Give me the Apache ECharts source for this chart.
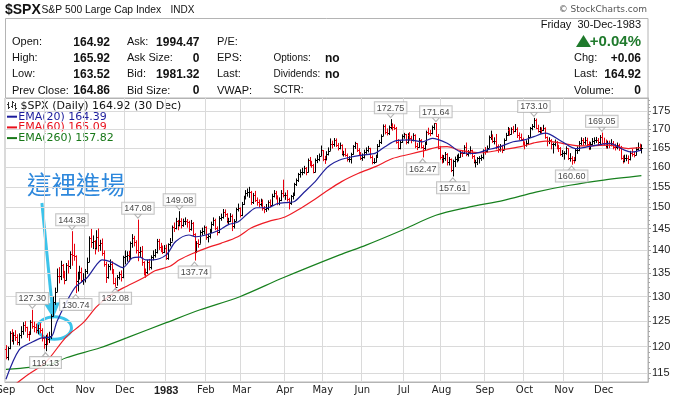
<!DOCTYPE html>
<html>
<head>
<meta charset="utf-8">
<script src="https://cdn.jsdelivr.net/npm/echarts@6/dist/echarts.min.js"></script>
<style>
  html, body { margin: 0; padding: 0; background: #fff; }
  #chart { width: 676px; height: 397px; }
</style>
</head>
<body>
<div id="chart"></div>
<script>
// daily bars, one array per month: [day, high, low, close]
const sep82 = [[1,120.3,117.6,117.98],[2,120.0,117.4,119.67],[3,123.0,119.5,122.68],[7,123.4,120.9,121.37],[8,122.8,120.4,122.19],[9,123.2,121.1,121.97],[10,122.4,120.3,120.97],[13,122.6,120.2,122.24],[14,124.0,121.6,123.10],[15,124.8,122.3,124.29],[16,125.0,122.9,123.77],[17,123.9,121.7,122.55],[20,123.0,121.1,122.51],[21,125.2,122.4,124.88],[22,127.30,123.5,123.99],[23,124.9,122.8,123.81],[24,124.5,122.6,123.32],[27,124.3,122.4,123.62],[28,124.6,122.6,123.24],[29,123.6,121.0,121.63],[30,122.0,119.6,120.42]];
const oct82 = [[1,122.3,119.13,121.97],[4,122.6,120.3,121.51],[5,122.9,120.7,121.98],[6,126.4,121.5,125.97],[7,130.0,125.9,128.80],[8,131.9,128.3,131.05],[11,136.0,131.0,134.47],[12,136.3,132.8,134.44],[13,137.7,133.5,136.71],[14,137.0,133.9,134.57],[15,135.5,132.6,133.57],[18,137.2,133.4,136.73],[19,137.8,134.9,136.58],[20,139.8,135.9,139.23],[21,144.38,136.6,139.06],[22,141.5,137.7,138.83],[25,138.9,130.74,133.32],[26,135.3,131.1,134.48],[27,136.6,133.6,135.29],[28,136.2,133.0,133.59],[29,135.0,132.5,133.72]];
const nov82 = [[1,135.9,133.0,135.47],[2,138.4,134.8,137.49],[3,143.2,137.4,142.87],[4,144.9,140.6,141.85],[5,143.4,140.3,142.16],[8,142.3,139.1,140.44],[9,144.6,140.2,143.02],[10,145.0,139.7,141.16],[11,142.4,139.9,141.75],[12,142.7,138.8,139.53],[15,140.0,136.4,137.03],[16,137.5,132.9,134.21],[17,137.0,133.8,136.47],[18,138.0,135.6,137.02],[19,137.6,134.8,135.40],[22,135.9,132.6,132.93],[23,134.0,132.08,132.11],[24,134.6,132.3,134.22],[26,135.3,133.6,134.88],[29,135.6,133.2,134.20],[30,138.8,133.9,138.53]];
const dec82 = [[1,140.0,136.9,138.72],[2,139.8,137.5,138.91],[3,139.9,137.4,138.69],[6,142.0,137.9,141.77],[7,143.7,140.6,142.72],[8,143.3,140.9,141.82],[9,142.3,139.3,140.00],[10,147.08,137.6,139.57],[13,140.8,138.5,139.94],[14,141.0,136.6,137.40],[15,137.6,134.5,135.24],[16,136.0,134.0,135.14],[17,137.9,134.8,137.49],[20,138.1,135.6,136.25],[21,138.9,135.8,138.61],[22,140.0,137.8,139.08],[23,140.3,138.4,139.72],[27,142.6,139.3,142.17],[28,142.6,140.1,140.77],[29,141.7,139.6,140.33],[30,141.1,139.2,139.72],[31,141.2,139.4,140.64]];
const jan83 = [[3,141.3,137.9,138.34],[4,141.6,137.9,141.36],[5,142.8,140.9,142.01],[6,145.7,142.0,145.27],[7,146.4,144.2,145.18],[10,147.5,144.8,146.78],[11,147.0,144.6,145.78],[12,149.08,145.5,146.69],[13,147.4,145.0,145.73],[14,147.3,145.4,146.65],[17,147.6,145.8,146.71],[18,147.2,145.2,146.40],[19,146.8,144.2,144.83],[20,147.0,144.5,146.29],[21,146.5,143.2,143.84],[24,143.9,137.74,139.97],[25,142.1,139.4,141.75],[26,142.5,140.6,141.54],[27,144.6,141.5,144.27],[28,145.2,143.4,144.51],[31,145.7,143.6,145.30]];
const feb83 = [[1,145.5,142.4,142.96],[2,143.8,141.8,143.23],[3,144.9,142.7,144.26],[4,146.6,144.0,146.14],[7,147.6,145.6,146.93],[8,147.3,144.6,145.00],[9,145.5,143.4,144.10],[10,147.9,143.9,147.50],[11,148.5,146.8,147.65],[14,149.6,147.3,148.93],[15,149.5,147.7,148.30],[16,148.6,146.2,146.71],[17,147.5,145.9,146.79],[18,148.6,146.5,148.00],[22,148.3,144.4,145.48],[23,147.2,145.0,146.79],[24,149.9,146.7,149.60],[25,150.9,149.0,149.74],[28,150.0,147.6,148.06]];
const mar83 = [[1,151.3,147.9,150.88],[2,152.8,150.6,152.30],[3,154.2,151.9,153.48],[4,154.6,152.6,153.67],[7,155.0,152.3,153.67],[8,154.0,150.6,151.26],[9,153.5,150.8,152.87],[10,154.0,151.3,151.80],[11,152.4,150.4,151.24],[14,151.9,150.0,150.83],[15,152.1,150.2,151.37],[16,151.9,149.2,149.81],[17,150.3,148.6,149.59],[18,150.8,148.9,149.90],[21,151.7,149.3,151.19],[22,151.9,150.0,150.66],[23,153.3,150.4,152.81],[24,154.2,152.4,153.37],[25,154.0,151.9,152.67],[28,152.9,150.5,150.98],[29,152.4,150.5,151.85],[30,154.2,151.5,153.39],[31,156.8,152.4,152.96]];
const apr83 = [[4,153.6,151.8,153.02],[5,154.2,151.4,151.90],[6,152.3,149.5,151.04],[7,153.0,150.6,152.68],[8,153.6,151.9,153.02],[11,156.0,152.9,155.82],[12,157.1,155.2,156.77],[13,158.5,156.2,158.11],[14,159.4,157.3,158.75],[15,159.8,157.9,158.75],[18,160.3,158.3,159.74],[19,160.0,157.9,158.71],[20,162.2,158.6,161.81],[21,162.6,160.2,160.96],[22,161.6,159.8,160.42],[25,160.8,158.4,158.81],[26,162.2,158.6,161.81],[27,163.1,161.0,162.03],[28,163.5,161.5,162.95],[29,165.6,162.8,164.43]];
const may83 = [[2,164.4,161.5,162.11],[3,162.9,160.8,162.10],[4,164.1,161.7,163.31],[5,165.1,163.0,164.28],[6,167.5,164.2,166.10],[9,166.9,164.8,165.95],[10,167.6,165.3,166.99],[11,167.5,165.2,165.81],[12,166.3,164.3,164.96],[13,166.4,164.6,165.81],[16,165.9,163.0,163.40],[17,164.2,162.7,163.45],[18,164.9,162.7,163.14],[19,163.5,161.4,161.99],[20,162.8,161.2,162.14],[23,163.7,160.9,163.43],[24,165.7,163.2,165.54],[25,166.6,164.7,166.21],[26,166.2,163.9,164.46],[27,164.9,162.9,163.43],[31,163.9,161.8,162.39]];
const jun83 = [[1,163.5,161.6,162.55],[2,164.5,162.2,163.98],[3,165.1,163.4,164.42],[6,165.5,163.8,164.84],[7,165.0,162.2,162.68],[8,163.0,160.7,161.36],[9,162.3,160.8,161.37],[10,163.2,161.2,162.68],[13,166.0,162.6,165.53],[14,167.1,165.2,166.63],[15,168.6,166.0,168.22],[16,171.3,168.1,170.99],[17,171.3,168.6,169.13],[20,170.2,168.3,169.02],[21,171.0,168.4,170.53],[22,172.75,170.0,170.99],[23,171.6,169.6,170.57],[24,171.3,169.8,170.41],[27,170.6,166.1,166.48],[28,167.3,164.6,164.88],[29,167.0,164.6,166.64],[30,168.6,166.3,168.11]];
const jul83 = [[1,169.0,167.4,168.64],[5,168.7,165.9,166.60],[6,168.9,166.1,168.48],[7,169.2,166.9,167.56],[8,168.2,166.2,167.08],[11,168.9,166.7,168.46],[12,168.6,164.9,165.46],[13,166.3,164.4,165.25],[14,167.6,165.0,167.04],[15,167.3,164.8,165.20],[18,165.7,162.47,164.82],[19,166.6,164.2,166.06],[20,169.6,165.9,169.29],[21,170.4,168.4,169.06],[22,169.8,168.1,169.05],[25,171.0,168.6,170.53],[26,171.6,169.8,171.60],[27,171.64,167.9,168.22],[28,168.7,164.6,165.04],[29,165.5,161.9,162.56]];
const aug83 = [[1,163.2,160.9,162.04],[2,163.1,161.1,162.33],[3,163.9,161.6,163.44],[4,163.6,160.4,161.33],[5,162.6,160.4,162.02],[8,162.2,158.7,159.18],[9,161.9,157.61,161.54],[10,162.7,160.0,162.14],[11,163.2,161.2,162.16],[12,163.5,161.5,162.68],[15,164.4,162.4,163.70],[16,164.3,162.6,163.61],[17,165.7,163.4,165.29],[18,166.4,162.8,163.43],[19,164.4,162.7,163.98],[22,165.4,163.3,164.34],[23,164.5,162.1,162.77],[24,163.1,160.9,161.25],[25,161.9,159.9,161.25],[26,162.6,160.5,162.25],[29,162.8,160.9,162.25],[30,163.2,161.6,162.58],[31,164.6,162.0,164.40]];
const sep83 = [[1,165.2,163.2,164.23],[2,165.6,163.8,165.00],[6,168.3,164.9,167.89],[7,169.6,167.1,167.96],[8,168.6,166.3,166.92],[9,167.8,165.9,166.92],[12,168.7,164.6,165.48],[13,165.9,163.7,164.80],[14,166.0,164.0,165.35],[15,165.8,163.6,164.38],[16,167.5,164.4,167.11],[19,169.0,166.9,168.41],[20,170.6,168.2,169.85],[21,170.3,168.2,168.81],[22,170.5,168.5,170.07],[23,170.9,168.8,169.51],[26,171.4,169.2,170.07],[27,170.5,167.6,168.43],[28,169.1,167.1,168.00],[29,168.8,166.8,167.23],[30,167.7,165.6,166.07]];
const oct83 = [[3,166.7,164.6,165.81],[4,167.0,165.3,166.27],[5,168.4,165.8,167.83],[6,170.6,167.7,170.28],[7,171.4,169.7,170.80],[10,173.10,170.3,172.65],[11,172.9,170.0,170.34],[12,171.2,169.1,169.62],[13,170.6,168.8,169.87],[14,170.5,168.8,169.86],[17,171.2,169.5,170.41],[18,170.5,167.4,167.81],[19,168.0,165.4,166.73],[20,167.8,166.0,166.98],[21,167.3,164.6,165.95],[24,166.4,163.5,165.99],[25,167.2,165.4,166.47],[26,166.8,164.6,165.38],[27,165.8,163.9,164.84],[28,165.2,162.9,163.37],[31,164.4,162.6,163.55]];
const nov83 = [[1,164.1,161.9,163.66],[2,165.4,163.2,164.84],[3,164.8,161.8,162.44],[4,163.6,161.4,162.44],[7,162.8,160.60,161.91],[8,162.6,160.9,161.76],[9,164.8,161.5,164.41],[10,165.4,163.4,164.41],[11,166.8,164.1,166.29],[14,167.8,165.6,167.12],[15,167.6,165.6,166.58],[16,167.9,165.8,167.12],[17,167.7,165.4,166.13],[18,166.7,164.4,164.99],[21,166.6,164.5,166.05],[22,167.6,165.6,166.84],[23,167.8,165.9,166.96],[25,167.9,166.3,167.18],[28,167.6,165.7,166.54],[29,168.4,166.0,167.91],[30,169.05,166.0,166.40]];
const dec83 = [[1,167.7,165.6,166.37],[2,167.2,164.8,165.44],[5,166.9,164.8,166.16],[6,166.9,164.9,165.76],[7,167.3,165.4,166.26],[8,166.8,164.6,165.20],[9,166.1,164.3,165.13],[12,166.4,164.6,165.62],[13,166.1,164.2,164.93],[14,165.5,161.9,162.39],[15,163.0,160.9,161.66],[16,163.2,161.2,162.26],[19,163.2,161.5,162.34],[20,163.0,160.8,162.00],[21,164.2,161.7,163.56],[22,164.7,162.7,163.33],[23,164.0,162.5,163.22],[27,165.2,163.0,164.76],[28,166.4,164.3,165.34],[29,166.1,164.2,164.86],[30,165.92,163.52,164.92]];

const months = [['1982-09', sep82], ['1982-10', oct82], ['1982-11', nov82], ['1982-12', dec82],
  ['1983-01', jan83], ['1983-02', feb83], ['1983-03', mar83], ['1983-04', apr83], ['1983-05', may83],
  ['1983-06', jun83], ['1983-07', jul83], ['1983-08', aug83], ['1983-09', sep83], ['1983-10', oct83],
  ['1983-11', nov83], ['1983-12', dec83]];
const prevClose = 119.51; // close before the first bar

// moving averages
const ema20 = [['1982-09-01',113.9],['1982-09-13',119.4],['1982-09-22',120.9],['1982-09-29',121.7],['1982-10-06',121.9],['1982-10-11',124.9],['1982-10-18',128.8],['1982-10-25',132.1],['1982-11-02',134.0],['1982-11-09',136.8],['1982-11-12',137.9],['1982-11-19',137.4],['1982-11-30',136.2],['1982-12-07',138.3],['1982-12-13',138.5],['1982-12-16',137.9],['1982-12-22',137.9],['1983-01-03',139.0],['1983-01-10',142.0],['1983-01-19',143.5],['1983-01-25',143.1],['1983-02-01',143.5],['1983-02-10',144.6],['1983-02-17',145.9],['1983-02-25',146.5],['1983-03-04',148.4],['1983-03-11',149.9],['1983-03-21',149.9],['1983-03-28',150.9],['1983-04-06',151.2],['1983-04-11',151.4],['1983-04-18',153.6],['1983-04-26',156.3],['1983-05-03',159.2],['1983-05-06',160.5],['1983-05-13',161.8],['1983-05-24',162.7],['1983-06-01',163.1],['1983-06-10',163.6],['1983-06-17',165.3],['1983-06-27',166.9],['1983-07-07',167.1],['1983-07-18',166.6],['1983-07-25',167.5],['1983-08-04',166.2],['1983-08-15',163.9],['1983-08-24',163.5],['1983-09-02',164.4],['1983-09-14',165.3],['1983-09-23',166.6],['1983-10-03',167.1],['1983-10-10',168.0],['1983-10-18',168.9],['1983-10-31',166.6],['1983-11-09',164.8],['1983-11-18',165.3],['1983-12-06',166.2],['1983-12-16',164.4],['1983-12-22',163.9],['1983-12-30',164.39]];
const ema60 = [['1982-09-01',111.7],['1982-09-20',114.8],['1982-10-01',117.0],['1982-10-18',121.9],['1982-10-29',124.7],['1982-11-09',127.9],['1982-11-18',130.2],['1982-11-30',131.8],['1982-12-15',134.0],['1982-12-23',135.5],['1983-01-05',136.5],['1983-01-12',137.9],['1983-01-21',139.3],['1983-02-03',140.8],['1983-02-11',141.6],['1983-02-25',143.1],['1983-03-08',145.1],['1983-03-21',146.6],['1983-04-04',147.7],['1983-04-13',149.4],['1983-04-22',151.4],['1983-05-03',153.6],['1983-05-16',156.3],['1983-05-27',158.4],['1983-06-10',160.1],['1983-06-23',162.2],['1983-07-07',163.3],['1983-07-20',164.4],['1983-07-28',165.2],['1983-08-04',165.3],['1983-08-15',164.3],['1983-08-30',163.7],['1983-09-14',164.4],['1983-09-29',165.3],['1983-10-10',166.3],['1983-10-18',166.8],['1983-10-31',166.2],['1983-11-14',165.5],['1983-12-06',165.7],['1983-12-20',164.8],['1983-12-30',165.09]];
const ema260 = [['1982-09-01',115.7],['1982-10-05',116.6],['1982-10-18',117.9],['1982-11-11',119.8],['1982-12-02',121.7],['1983-01-03',124.7],['1983-01-27',127.3],['1983-02-28',130.0],['1983-03-31',134.0],['1983-05-13',139.0],['1983-06-03',141.2],['1983-06-30',144.6],['1983-07-27',148.1],['1983-08-19',150.0],['1983-09-16',151.7],['1983-10-11',153.7],['1983-11-04',155.4],['1983-12-01',156.7],['1983-12-30',157.82]];

// labelled swing highs / lows
const peaks = [['1982-09-22',127.30],['1982-10-21',144.38],['1982-12-10',147.08],['1983-01-12',149.08],['1983-06-22',172.75],['1983-07-27',171.64],['1983-10-10',173.10],['1983-11-30',169.05]];
const troughs = [['1982-10-01',119.13],['1982-10-25',130.74],['1982-11-23',132.08],['1983-01-24',137.74],['1983-07-18',162.47],['1983-08-09',157.61],['1983-11-07',160.60]];

const yTicks = [115, 120, 125, 130, 135, 140, 145, 150, 155, 160, 165, 170, 175];
const monthNames = ['Jan','Feb','Mar','Apr','May','Jun','Jul','Aug','Sep','Oct','Nov','Dec'];

const legendRows = [['$SPX (Daily) 164.92 (30 Dec)', '#111'], ['EMA(20) 164.39', '#1c1c9c'], ['EMA(60) 165.09', '#e8101c'], ['EMA(260) 157.82', '#187818']];
const quoteLeft = [['Open:', '164.92'], ['High:', '165.92'], ['Low:', '163.52'], ['Prev Close:', '164.86']];
const quoteMid = [['Ask:', '1994.47'], ['Ask Size:', '0'], ['Bid:', '1981.32'], ['Bid Size:', '0']];
const quoteFund = ['P/E:', 'EPS:', 'Last:', 'VWAP:'];
const quoteExtra = [['', ''], ['Options:', 'no'], ['Dividends:', 'no'], ['SCTR:', '']];
const quoteRight = [['', ''], ['Chg:', '+0.06'], ['Last:', '164.92'], ['Volume:', '0']];

const RED = '#e8000e', NAVY = '#20209a', EMA_RED = '#ee1c25', GREEN = '#17801e', CYAN = '#3cc3ea';
const FONT = 'Liberation Sans';

// build categories and bars
const categories = [];
const bars = [];
const monthStart = new Set();
let prev = prevClose;
months.forEach(([ym, rows]) => {
  monthStart.add(categories.length);
  rows.forEach(([day, hi, lo, cl]) => {
    const i = categories.length;
    categories.push(ym + '-' + String(day).padStart(2, '0'));
    bars.push([i, Math.log(hi), Math.log(lo), Math.log(prev), Math.log(cl), cl >= prev ? 1 : 0]);
    prev = cl;
  });
});
['', ' ', '  '].forEach(p => categories.push(p)); // empty room at the right edge
const idxOf = {};
categories.forEach((c, i) => { idxOf[c] = i; });
const toPts = arr => arr.map(([d, v]) => [idxOf[d], Math.log(v)]);

const minorTicks = [];
for (let v = 114; v <= 178; v++) minorTicks.push(Math.log(v));

function renderBar(params, api) {
  const i = api.value(0);
  const hi = api.coord([i, api.value(1)]);
  const lo = api.coord([i, api.value(2)]);
  const op = api.coord([i, api.value(3)]);
  const cl = api.coord([i, api.value(4)]);
  const x = Math.round(hi[0]) + 0.5;
  const stroke = api.value(5) ? '#000' : RED;
  const yo = Math.round(op[1]) + 0.5, yc = Math.round(cl[1]) + 0.5;
  return {
    type: 'group',
    children: [
      { type: 'line', shape: { x1: x, y1: hi[1], x2: x, y2: lo[1] }, style: { stroke, lineWidth: 1 } },
      { type: 'line', shape: { x1: x - 1.5, y1: yo, x2: x, y2: yo }, style: { stroke, lineWidth: 1 } },
      { type: 'line', shape: { x1: x, y1: yc, x2: x + 1.5, y2: yc }, style: { stroke, lineWidth: 1 } }
    ]
  };
}

const boxLabel = {
  show: true, fontSize: 9, fontFamily: FONT, color: '#111', lineHeight: 10,
  backgroundColor: '#fff', borderColor: '#b4b4b4', borderWidth: 1, padding: [1, 2, 0, 2], distance: 0
};

function emaSeries(name, pts, color) {
  return {
    type: 'line', name, data: toPts(pts), showSymbol: false, smooth: 0.3, clip: true, z: 4,
    lineStyle: { color, width: 1.2 }, silent: true
  };
}

// header + legend + annotation as plain graphics
const graphics = [];
function txt(x, y, text, o = {}) {
  graphics.push({
    type: 'text', x, y, silent: true,
    style: {
      text, fill: o.color || '#111', font: (o.bold ? 'bold ' : '') + (o.size || 11) + 'px "' + (o.family || FONT) + '"',
      align: o.align || 'left', verticalAlign: 'middle'
    }
  });
}
graphics.push({ type: 'rect', shape: { x: 5.5, y: 18.5, width: 642.5, height: 80 }, style: { fill: 'none', stroke: '#b4b4b4', lineWidth: 1 }, silent: true });
txt(5, 10, '$SPX', { bold: true, size: 14 });
txt(41.5, 10.5, 'S&P 500 Large Cap Index', { size: 10.3 });
txt(170.5, 10.5, 'INDX', { size: 10 });
txt(647, 9.5, '\u00A9 StockCharts.com', { size: 9, color: '#555', family: 'DejaVu Sans', align: 'right' });
txt(641, 25, 'Friday  30-Dec-1983', { align: 'right' });
graphics.push({ type: 'polygon', shape: { points: [[576, 47], [591, 47], [583.5, 35]] }, style: { fill: '#1f7a2c' }, silent: true });
txt(641, 41.5, '+0.04%', { align: 'right', bold: true, size: 15, color: '#1f7a2c' });
const rowY = [42.3, 58.3, 74.3, 90.6];
rowY.forEach((y, r) => {
  txt(12, y, quoteLeft[r][0]);
  txt(110, y, quoteLeft[r][1], { bold: true, size: 12, align: 'right' });
  txt(127, y, quoteMid[r][0]);
  txt(199.5, y, quoteMid[r][1], { bold: true, size: 12, align: 'right' });
  txt(217, y, quoteFund[r]);
  txt(273.5, y, quoteExtra[r][0], { size: 10 });
  txt(325, y, quoteExtra[r][1], { bold: true, size: 12 });
  txt(574, y, quoteRight[r][0]);
  txt(641, y, quoteRight[r][1], { bold: true, size: 12, align: 'right' });
});

// legend rows inside the plot
const legendY = [106, 116.7, 127.4, 138.1];
legendRows.forEach(([text, color], r) => {
  if (r === 0) {
    [[8.5, 102, 109, 104, 107], [12.5, 101, 108, 106, 102], [15.5, 103, 110, 105, 108]].forEach(([x, a, b, o, c]) => {
      graphics.push({ type: 'line', shape: { x1: x, y1: a, x2: x, y2: b }, style: { stroke: '#333', lineWidth: 1 }, silent: true });
      graphics.push({ type: 'line', shape: { x1: x - 1.5, y1: o + 0.5, x2: x, y2: o + 0.5 }, style: { stroke: '#333', lineWidth: 1 }, silent: true });
      graphics.push({ type: 'line', shape: { x1: x, y1: c + 0.5, x2: x + 1.5, y2: c + 0.5 }, style: { stroke: '#333', lineWidth: 1 }, silent: true });
    });
    txt(20.5, legendY[r], text, { size: 11, family: 'DejaVu Sans', color });
  } else {
    graphics.push({ type: 'rect', shape: { x: 7, y: legendY[r] - 1, width: 10, height: 2 }, style: { fill: color }, silent: true });
    txt(18.3, legendY[r], text, { size: 11, family: 'DejaVu Sans', color });
  }
});

// hand annotation
txt(27, 185, '這裡進場', { size: 24.5, family: 'Noto Sans CJK TC', color: '#2e88dc' });
graphics.push({ type: 'line', shape: { x1: 41.9, y1: 203, x2: 52, y2: 305 }, style: { stroke: CYAN, lineWidth: 3 }, silent: true });
graphics.push({ type: 'polygon', shape: { points: [[44, 303.8], [60, 302.2], [53.3, 318.5]] }, style: { fill: CYAN }, silent: true });
graphics.push({ type: 'ellipse', shape: { cx: 54.5, cy: 328, rx: 17, ry: 11.3 }, style: { fill: 'none', stroke: CYAN, lineWidth: 3 }, silent: true });

const chart = echarts.init(document.getElementById('chart'));
chart.setOption({
  animation: false,
  backgroundColor: '#fff',
  grid: { left: 5, right: 28, top: 98, bottom: 15, show: true, borderColor: '#b4b4b4', borderWidth: 1, outerBoundsMode: 'none' },
  xAxis: {
    type: 'category', data: categories, boundaryGap: true,
    axisLine: { show: true, lineStyle: { color: '#b4b4b4' } },
    axisTick: { show: false },
    axisLabel: {
      interval: i => monthStart.has(i), margin: 3, fontSize: 10, fontFamily: 'DejaVu Sans', color: '#222',
      formatter: v => {
        const [y, m] = v.split('-');
        return m === '01' ? '{yr|' + y + '}' : monthNames[+m - 1];
      },
      rich: { yr: { fontWeight: 'bold', fontSize: 11, fontFamily: FONT, color: '#222' } }
    },
    splitLine: { show: true, interval: i => monthStart.has(i), lineStyle: { color: '#dadada', width: 1 } }
  },
  yAxis: [{
    type: 'value', position: 'right', min: Math.log(113.4), max: Math.log(178.7),
    axisLine: { show: true, lineStyle: { color: '#b4b4b4' } },
    axisTick: { show: true, length: 3, customValues: yTicks.map(Math.log), lineStyle: { color: '#999' } },
    axisLabel: {
      customValues: yTicks.map(Math.log), formatter: v => String(Math.round(Math.exp(v))),
      margin: 4, fontSize: 11, fontFamily: FONT, color: '#222'
    },
    splitLine: { show: true, lineStyle: { color: '#dadada', width: 1 } }
  }, {
    type: 'value', position: 'right', min: Math.log(113.4), max: Math.log(178.7),
    axisLine: { show: false },
    axisTick: { show: true, length: 2, customValues: minorTicks, lineStyle: { color: '#aaa' } },
    axisLabel: { show: false }, splitLine: { show: false }
  }],
  series: [
    { type: 'custom', name: '$SPX', renderItem: renderBar, data: bars, encode: { x: 0, y: [1, 2] }, z: 3, silent: true },
    emaSeries('EMA(260)', ema260, GREEN),
    emaSeries('EMA(60)', ema60, EMA_RED),
    emaSeries('EMA(20)', ema20, NAVY),
    {
      type: 'scatter', name: 'highs', z: 6, silent: true,
      data: toPts(peaks).map((p, k) => ({ value: p, label: { formatter: peaks[k][1].toFixed(2) } })),
      symbol: 'triangle', symbolSize: [7, 4], symbolRotate: 180, symbolOffset: [0, -3.5],
      itemStyle: { color: '#fff', borderColor: '#a0a0a0', borderWidth: 1 },
      label: Object.assign({ position: 'top' }, boxLabel)
    },
    {
      type: 'scatter', name: 'lows', z: 6, silent: true,
      data: toPts(troughs).map((p, k) => ({ value: p, label: { formatter: troughs[k][1].toFixed(2) } })),
      symbol: 'triangle', symbolSize: [7, 4], symbolOffset: [0, 3.5],
      itemStyle: { color: '#fff', borderColor: '#a0a0a0', borderWidth: 1 },
      label: Object.assign({ position: 'bottom' }, boxLabel)
    }
  ],
  graphic: graphics
});
</script>
</body>
</html>
